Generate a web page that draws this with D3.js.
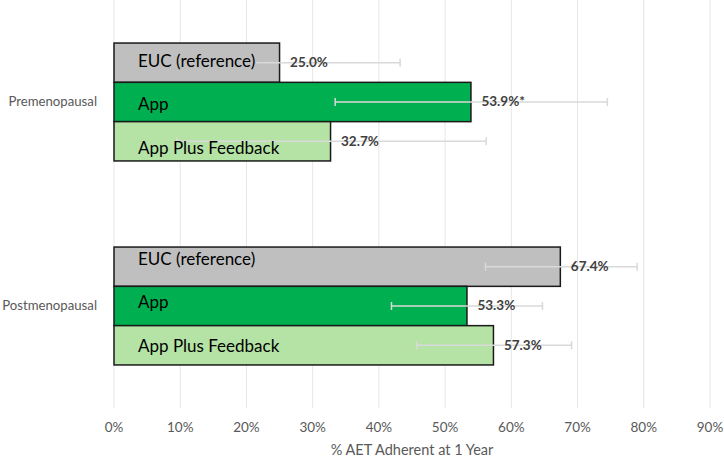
<!DOCTYPE html>
<html><head><meta charset="utf-8">
<script src="https://cdn.jsdelivr.net/npm/d3@7"></script>
<style>body{margin:0;background:#fff}svg{display:block}</style>
</head><body><svg id="c" width="724" height="457"></svg>
<script>
const groups = ["Premenopausal", "Postmenopausal"];
const arms = ["EUC (reference)", "App", "App Plus Feedback"];
const values = [[25.0, 53.9, 32.7], [67.4, 53.3, 57.3]];
const ciLow = [[15.0, 33.4, 9.5], [56.1, 41.9, 45.7]];
const ciHigh = [[43.2, 74.5, 56.2], [79.0, 64.7, 69.1]];
const valueLabels = [["25.0%", "53.9%*", "32.7%"], ["67.4%", "53.3%", "57.3%"]];
const xTicks = [0, 10, 20, 30, 40, 50, 60, 70, 80, 90];
const xTitle = "% AET Adherent at 1 Year";
const colors = ["#bfbfbf", "#00b050", "#b4e3a5"];
const labelDy = [[0, 4, 8], [-6, -2, 2]];

const svg = d3.select("#c");
const font = "Lato, 'Open Sans', sans-serif";
const x = d3.scaleLinear().domain([0, 90]).range([114, 710]);
const y = d3.scaleBand().domain(groups).range([0, 408]);
const bh = 39.3;
function barY(g, i) { return y(groups[g]) + y.bandwidth() / 2 - 1.5 * bh + i * bh; }

// gridlines
svg.append("g").selectAll("line").data(xTicks).join("line")
  .attr("x1", d => x(d)).attr("x2", d => x(d)).attr("y1", 0).attr("y2", 408)
  .attr("stroke", "#e6e6e6").attr("stroke-width", 1);

// tick labels
svg.append("g").selectAll("text").data(xTicks).join("text")
  .attr("x", d => x(d)).attr("y", 432).attr("text-anchor", "middle")
  .attr("font-family", font).attr("font-size", 13.5).attr("fill", "#595959")
  .text(d => d + "%");
svg.append("text").attr("x", x(45)).attr("y", 455).attr("text-anchor", "middle")
  .attr("font-family", font).attr("font-size", 14.5).attr("fill", "#595959").text(xTitle);

// category labels
svg.append("g").selectAll("text").data(groups).join("text")
  .attr("x", 97).attr("y", d => y(d) + y.bandwidth() / 2 + 1).attr("text-anchor", "end")
  .attr("dominant-baseline", "middle")
  .attr("font-family", font).attr("font-size", 13.2).attr("fill", "#595959").text(d => d);

const rows = [];
groups.forEach((g, gi) => arms.forEach((a, ai) => rows.push({gi, ai})));

// bars
svg.append("g").selectAll("rect").data(rows).join("rect")
  .attr("x", x(0)).attr("y", d => barY(d.gi, d.ai))
  .attr("width", d => x(values[d.gi][d.ai]) - x(0)).attr("height", bh)
  .attr("fill", d => colors[d.ai]).attr("stroke", "#1a1a1a").attr("stroke-width", 1.5);

// error bars
const eb = svg.append("g").attr("stroke", "#d9d9d9").attr("stroke-width", 1.5);
rows.forEach(d => {
  const cy = barY(d.gi, d.ai) + bh / 2;
  eb.append("line").attr("x1", x(ciLow[d.gi][d.ai])).attr("x2", x(ciHigh[d.gi][d.ai])).attr("y1", cy).attr("y2", cy);
  [ciLow, ciHigh].forEach(arr => eb.append("line").attr("x1", x(arr[d.gi][d.ai])).attr("x2", x(arr[d.gi][d.ai]))
    .attr("y1", cy - 4).attr("y2", cy + 4));
});

// arm labels inside bars with fill box
const lg = svg.append("g");
rows.forEach(d => {
  const cy = barY(d.gi, d.ai) + bh / 2 + labelDy[d.gi][d.ai];
  const box = lg.append("rect").attr("fill", colors[d.ai]);
  const t = lg.append("text").attr("x", 138).attr("y", cy).attr("dominant-baseline", "middle")
    .attr("font-family", font).attr("font-size", 17).attr("fill", "#000").text(arms[d.ai]);
  const bb = t.node().getBBox();
  box.attr("x", bb.x - 1).attr("y", cy - 7).attr("width", bb.width + 2).attr("height", 16);
});

// value labels
svg.append("g").selectAll("text").data(rows).join("text")
  .attr("x", d => x(values[d.gi][d.ai]) + 10.5).attr("y", d => barY(d.gi, d.ai) + bh / 2 + 1)
  .attr("dominant-baseline", "middle")
  .attr("font-family", font).attr("font-size", 13.5).attr("font-weight", "bold").attr("fill", "#404040")
  .text(d => valueLabels[d.gi][d.ai]);
</script></body></html>
